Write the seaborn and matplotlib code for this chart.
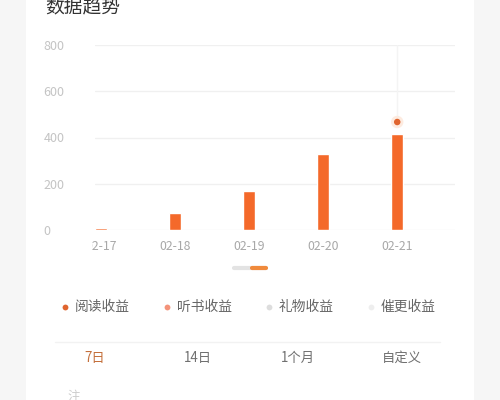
import matplotlib
matplotlib.use('Agg')
import matplotlib.pyplot as plt
from matplotlib.patches import Rectangle
from matplotlib.lines import Line2D
import seaborn as sns
import pandas as pd

# data
dates = ['02-17', '02-18', '02-19', '02-20', '02-21']
reading = [8, 75, 167, 330, 413]
marker_value = 467          # highlighted point above the last bar
y_ticks = [0, 200, 400, 600, 800]
legend_names = ['阅读收益', '听书收益', '礼物收益', '催更收益']
legend_colors = ['#e0652f', '#f4937a', '#dddddd', '#eeeeee']
tabs = ['7日', '14日', '1个月', '自定义']

sns.set_style('white')
plt.rcParams['font.family'] = ['Noto Sans CJK SC', 'DejaVu Sans']

df = pd.DataFrame({'date': dates, 'value': reading})

fig = plt.figure(figsize=(5, 4), dpi=100)
fig.patch.set_facecolor('#f6f6f6')
# white card behind everything
fig.patches.append(Rectangle((0.052, -0.05), 0.896, 1.1, transform=fig.transFigure,
                             facecolor='white', edgecolor='none', zorder=-5))

ax = fig.add_axes([0.19, 0.425, 0.72, 0.4625])
ax.set_facecolor('none')
sns.barplot(data=df, x='date', y='value', color='#f4692a', width=0.165,
            saturation=1, ax=ax, zorder=3)

# highlight marker + tooltip line
ax.plot([4, 4], [marker_value, 800], color='#f4f4f4', lw=1, zorder=1)
ax.scatter([4], [marker_value], s=80, color='#fdebe0', zorder=4, edgecolors='none')
ax.scatter([4], [marker_value], s=22, color='#e0652f', zorder=5, edgecolors='none')

ax.set_ylim(0, 800)
ax.set_xlim(-0.08, 4.78)
ax.set_yticks(y_ticks)
ax.set_yticklabels([str(v) for v in y_ticks], ha='left')
ax.grid(axis='y', color='#f0f0f0', lw=1, zorder=0)
ax.grid(axis='x', visible=False)
ax.set_axisbelow(True)
for s in ax.spines.values():
    s.set_visible(False)
ax.tick_params(axis='y', length=0, pad=37, labelsize=9, labelcolor='#c4c4c4')
ax.tick_params(axis='x', length=0, pad=7, labelsize=8.8, labelcolor='#a8a8a8')
ax.set_xlabel('')
ax.set_ylabel('')

# the chart is scrolled: the first label is cut at the left
clip = Rectangle((92 / 500, 0), (460 - 92) / 500, 1, transform=fig.transFigure,
                 facecolor='none', edgecolor='none', zorder=-6)
fig.patches.append(clip)
for lab in ax.get_xticklabels():
    lab.set_clip_on(True)
    lab.set_clip_path(clip)

# title (partly above the visible area)
fig.text(45 / 500, 1 - 7 / 400, '数据趋势', fontsize=13.5, color='#333333',
         ha='left', va='center')

# scroll indicator
fig.add_artist(Line2D([234 / 500, 266 / 500], [1 - 268 / 400] * 2, color='#e3e3e3',
                      lw=3, solid_capstyle='round', transform=fig.transFigure))
fig.add_artist(Line2D([252 / 500, 266 / 500], [1 - 268 / 400] * 2, color='#f08a3c',
                      lw=3, solid_capstyle='round', transform=fig.transFigure))

# legend row
for i, (name, c) in enumerate(zip(legend_names, legend_colors)):
    x0 = (65 + i * 102) / 500
    fig.add_artist(Line2D([x0], [1 - 307 / 400], marker='o', markersize=4.2, color=c,
                          markeredgecolor='none', transform=fig.transFigure))
    fig.text(x0 + 10 / 500, 1 - 307 / 400, name, fontsize=9.9, color='#666666',
             ha='left', va='center')

# separator
fig.add_artist(Line2D([55 / 500, 440 / 500], [1 - 342 / 400] * 2, color='#f2f2f2',
                      lw=1, transform=fig.transFigure))

# period tabs
tab_x = [95, 198, 298, 402]
for t, xx in zip(tabs, tab_x):
    col = '#c4703c' if t == '7日' else '#707070'
    fig.text(xx / 500, 1 - 358 / 400, t, fontsize=9.6, color=col,
             ha='center', va='center')

fig.text(67 / 500, 1 - 390 / 400, '注', fontsize=9, color='#cccccc',
         ha='left', va='top')

plt.savefig('out.png', dpi=100, facecolor=fig.get_facecolor())
